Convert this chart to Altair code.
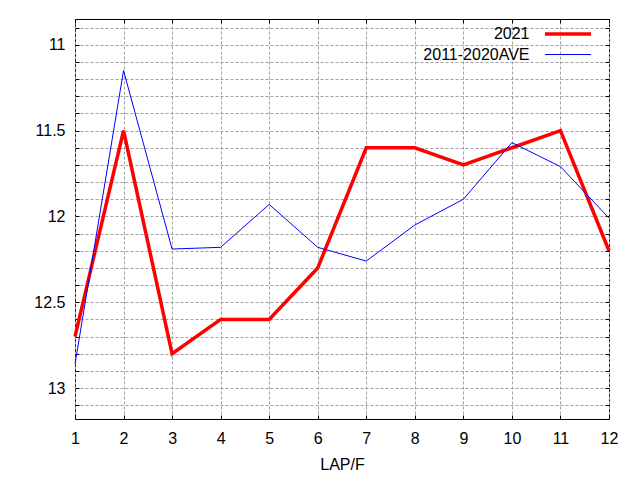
import altair as alt
import pandas as pd

laps = [1, 2, 3, 4, 5, 6, 7, 8, 9, 10, 11, 12]
y2021 = [12.7, 11.5, 12.8, 12.6, 12.6, 12.3, 11.6, 11.6, 11.7, 11.6, 11.5, 12.2]
yave = [12.86, 11.15, 12.19, 12.18, 11.93, 12.18, 12.26, 12.05, 11.9, 11.57, 11.71, 12.01]
series = ["2021", "2011-2020AVE"]
colors = ["#ff0000", "#0000ff"]
widths = [3.5, 1]
y_ticks = [10.9, 11.0, 11.1, 11.2, 11.3, 11.4, 11.5, 11.6, 11.7, 11.8, 11.9, 12.0,
           12.1, 12.2, 12.3, 12.4, 12.5, 12.6, 12.7, 12.8, 12.9, 13.0, 13.1]

rows = []
for s, vals in zip(series, [y2021, yave]):
    for lap, v in zip(laps, vals):
        rows.append({"lap": lap, "time": v, "series": s})
df = pd.DataFrame(rows)

FONT = "Liberation Sans"
FS = 16
xs = alt.Scale(domain=[1, 12], nice=False, zero=False)
ys = alt.Scale(domain=[10.85, 13.18], reverse=True, nice=False, zero=False)

legend = alt.Legend(title=None, orient="none", legendX=485, legendY=7,
                    symbolType="M-5,0L5,0", symbolSize=85, labelAlign="right",
                    labelOffset={"expr": "-46.5"}, labelFontSize=FS, labelFont=FONT,
                    labelColor="black", padding=0, rowPadding=4.5)

x_main = alt.X("lap:Q", scale=xs, axis=alt.Axis(
    values=laps, title="LAP/F", grid=True, gridDash=[3, 2], gridColor="#a0a0a0",
    domain=False, tickSize=4, offset=-4, tickColor="black", labelPadding=11,
    labelFontSize=FS, labelFont=FONT, labelColor="black", labelAngle=0,
    titleFont=FONT, titleFontSize=FS, titleFontWeight="normal", titleColor="black",
    titlePadding=10, labelFlush=False))
y_main = alt.Y("time:Q", scale=ys, axis=alt.Axis(
    values=y_ticks, title=None, grid=True, gridDash=[3, 2], gridColor="#a0a0a0",
    domain=False, tickSize=4, offset=-4, tickColor="black", labelPadding=10,
    labelFontSize=FS, labelFont=FONT, labelColor="black",
    labelExpr="abs(datum.value*2 - round(datum.value*2)) < 0.001 ? format(datum.value, '.2~f') : ''",
    labelFlush=False))
color = alt.Color("series:N", scale=alt.Scale(domain=series, range=colors), legend=legend)
sw = alt.StrokeWidth("series:N", scale=alt.Scale(domain=series, range=widths), legend=legend)

base = alt.Chart(df)
red = base.mark_line().encode(x=x_main, y=y_main, color=color, strokeWidth=sw).transform_filter(
    alt.datum.series == series[0])
blue = base.mark_line().encode(x=x_main, y=y_main, color=color, strokeWidth=sw).transform_filter(
    alt.datum.series == series[1])
lines = alt.layer(red, blue)

ticks = base.mark_line(opacity=0).encode(
    x=alt.X("lap:Q", scale=xs, axis=alt.Axis(
        orient="top", values=laps, title=None, labels=False, grid=False, domain=False,
        tickSize=4, offset=-4, tickColor="black")),
    y=alt.Y("time:Q", scale=ys, axis=alt.Axis(
        orient="right", values=y_ticks, title=None, labels=False, grid=False, domain=False,
        tickSize=4, offset=-4, tickColor="black")),
    detail="series:N",
)

chart = alt.layer(lines, ticks).resolve_axis(x="independent", y="independent").properties(
    width=534, height=400, autosize="none",
    padding={"left": 67, "top": 11, "right": 23, "bottom": 53},
    background="white",
).configure_view(stroke="black", strokeWidth=1)

chart.save("out.html", embed_options={"renderer": "svg", "actions": False})
